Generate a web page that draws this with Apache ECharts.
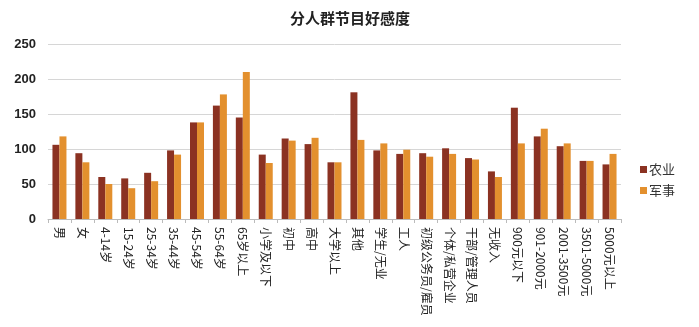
<!DOCTYPE html>
<html><head><meta charset="utf-8">
<script src="https://cdn.jsdelivr.net/npm/echarts@6/dist/echarts.min.js"></script>
<style>html,body{margin:0;padding:0;background:#fff}#c{width:699px;height:327px}</style>
</head><body><div id="c"></div>
<script>
const categories = ['男','女','4-14岁','15-24岁','25-34岁','35-44岁','45-54岁','55-64岁','65岁以上','小学及以下','初中','高中','大学以上','其他','学生/无业','工人','初级公务员/雇员','个体/私营企业','干部/管理人员','无收入','900元以下','901-2000元','2001-3500元','3501-5000元','5000元以上'];
const agriculture = [106,94,60,58,66,98,138,162,145,92,115,107,81,181,98,93,94,101,87,68,159,118,104,83,78];
const military = [118,81,50,44,54,92,138,178,210,80,112,116,81,113,108,99,89,93,85,60,108,129,108,83,93];
const yTicks = [0,50,100,150,200,250];

const chart = echarts.init(document.getElementById('c'));
const font = '"Noto Sans CJK SC", "Noto Sans", sans-serif';
chart.setOption({
  animation:false,
  textStyle:{fontFamily:font},
  title:{text:'分人群节目好感度',left:345,top:6,textAlign:'center',textStyle:{fontSize:15,fontWeight:'bold',color:'#222',fontFamily:font}},
  legend:{orient:'vertical',left:635,top:158,itemWidth:7,itemHeight:7,itemGap:8,icon:'rect',
    textStyle:{fontSize:13,color:'#333',fontFamily:font,padding:[0,0,0,-3]},
    data:['农业','军事']},
  grid:{left:48,right:78,top:44,bottom:108},
  xAxis:{type:'category',data:categories,
    axisLine:{lineStyle:{color:'#bbb'}},
    axisTick:{show:true,length:4,lineStyle:{color:'#bbb'}},
    axisLabel:{rotate:-90,interval:0,fontSize:12,color:'#222',margin:8,fontFamily:font}},
  yAxis:{type:'value',min:yTicks[0],max:yTicks[yTicks.length-1],interval:50,
    axisLine:{show:false},axisTick:{show:false},
    axisLabel:{fontSize:13,fontWeight:'bold',color:'#222',margin:12,fontFamily:'"Liberation Sans", sans-serif'},
    splitLine:{lineStyle:{color:'#d6d6d6'}}},
  series:[
    {name:'农业',type:'bar',data:agriculture,barWidth:7,barGap:'0%',itemStyle:{color:'#8B3222'}},
    {name:'军事',type:'bar',data:military,barWidth:7,barGap:'0%',itemStyle:{color:'#E3902E'}}
  ]
});
</script></body></html>
